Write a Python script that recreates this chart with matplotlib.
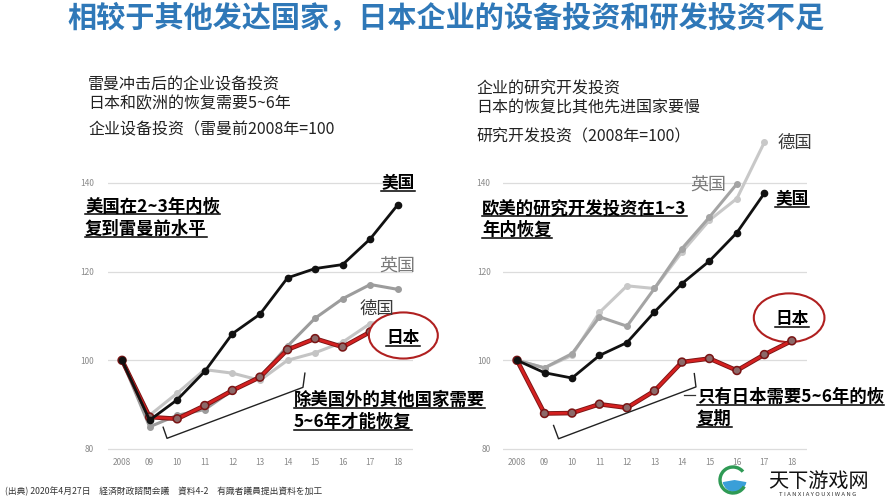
import numpy as np
import matplotlib
matplotlib.use("Agg")
import matplotlib.pyplot as plt
from matplotlib.patches import Ellipse, Wedge
from matplotlib.lines import Line2D
import matplotlib.patheffects as pe

plt.rcParams['font.family'] = ['Noto Sans CJK SC', 'DejaVu Sans']

# ---------------- data ----------------
years = ['2008', '09', '10', '11', '12', '13', '14', '15', '16', '17', '18']
yticks = [80, 100, 120, 140]

capex_us = [100, 86.5, 91.1, 97.5, 106.0, 110.4, 118.6, 120.7, 121.6, 127.4, 135.1]
capex_uk = [100, 85.0, 87.6, 88.9, 93.2, 96.2, 103.2, 109.5, 113.9, 117.1, 116.0]
capex_de = [100, 87.6, 92.6, 97.9, 97.1, 95.5, 100.0, 101.7, 104.1, 108.3, 109.5]
capex_jp = [100, 87.2, 86.8, 89.8, 93.2, 96.2, 102.4, 104.9, 103.0, 106.4, 109.5]

rd_us = [100, 97.2, 96.0, 101.1, 104.0, 110.9, 117.3, 122.4, 128.8, 137.7, np.nan]
rd_uk = [100, 98.3, 101.5, 109.8, 107.7, 116.2, 125.2, 132.3, 139.8, np.nan, np.nan]
rd_de = [100, 98.3, 101.1, 110.8, 116.8, 116.2, 124.4, 131.6, 136.5, 149.2, np.nan]
rd_jp = [100, 88.0, 88.1, 90.1, 89.3, 93.1, 99.6, 100.4, 97.7, 101.3, 104.4]

W, H = 888, 500
fig = plt.figure(figsize=(W / 100, H / 100), dpi=100)
fig.patch.set_facecolor('white')

RED = '#d42020'


def px(x, y):
    return x / W, 1 - y / H


def setup(ax, pad_y):
    ax.set_xlim(-0.51, 10.55)
    ax.set_ylim(79, 152)
    ax.set_xticks(range(len(years)))
    ax.set_xticklabels(years)
    ax.set_yticks(yticks)
    ax.set_yticklabels([str(v) for v in yticks])
    for s in ax.spines.values():
        s.set_visible(False)
    ax.tick_params(axis='both', length=0, labelsize=6, labelcolor='#8a8a8a')
    ax.tick_params(axis='x', pad=3)
    ax.tick_params(axis='y', pad=pad_y)
    ax.grid(axis='y', color='#dcdcdc', lw=0.9)
    ax.set_axisbelow(True)
    ax.patch.set_alpha(0)


def draw_lines(ax, us, uk, de, jp, uk_c, de_c):
    x = np.arange(len(years))
    ax.plot(x, de, color=de_c, lw=2.2, marker='o', ms=4, mfc=de_c, mec=de_c, zorder=3)
    ax.plot(x, uk, color=uk_c, lw=2.2, marker='o', ms=4, mfc=uk_c, mec=uk_c, zorder=3)
    ax.plot(x, jp, color=RED, lw=2.0, marker='o', ms=3.5, mfc='#8c6a6a', mec='#8c6a6a',
            zorder=4, path_effects=[pe.Stroke(linewidth=3.3, foreground='#7a1515'), pe.Normal()])
    ax.plot(x, us, color='#111111', lw=2.0, marker='o', ms=4.5, mfc='#111111', mec='#111111', zorder=5)


# left axes
axL = fig.add_axes([108 / W, 1 - 453.4 / H, 305 / W, 323.6 / H])
setup(axL, 10)
draw_lines(axL, capex_us, capex_uk, capex_de, capex_jp, '#9c9c9c', '#c4c4c4')
axL.add_patch(Ellipse((10.2, 105.6), 2.5, 10.4, facecolor='white', edgecolor='#b02020',
                      lw=1.5, zorder=6, clip_on=False))
axL.plot([1.49, 1.63, 6.56, 6.63], [84.9, 82.4, 93.9, 97.1], color='#222222', lw=1.0,
         zorder=6, clip_on=False)

# right axes
axR = fig.add_axes([503 / W, 1 - 453.4 / H, 304 / W, 323.6 / H])
setup(axR, 9)
draw_lines(axR, rd_us, rd_uk, rd_de, rd_jp, '#a4a4a4', '#c8c8c8')
axR.add_patch(Ellipse((9.9, 109.6), 2.57, 11.0, facecolor='white', edgecolor='#b02020',
                      lw=1.5, zorder=2.9, clip_on=False))
axR.plot([1.33, 1.51, 6.51, 6.45], [85.3, 82.3, 94.0, 97.0], color='#222222', lw=1.0,
         zorder=6, clip_on=False)

# ---------------- texts ----------------
fig.text(*px(446, 18), '相较于其他发达国家，日本企业的设备投资和研发投资不足',
         ha='center', va='center', fontsize=21, fontweight='bold', color='#2f78b8')

for (x, y, s) in [(88, 85, '雷曼冲击后的企业设备投资'),
                  (88, 104, '日本和欧洲的恢复需要5~6年'),
                  (88, 130, '企业设备投资（雷曼前2008年=100'),
                  (476, 89, '企业的研究开发投资'),
                  (476, 108, '日本的恢复比其他先进国家要慢'),
                  (476, 137, '研究开发投资（2008年=100）')]:
    fig.text(*px(x, y), s, ha='left', va='center', fontsize=11.5, color='#222222')

underlined = []


def ul(x, y, s, ha='left', size=12.5, color='black'):
    t = fig.text(*px(x, y), s, ha=ha, va='center', fontsize=size, fontweight='bold',
                 color=color, zorder=10)
    underlined.append(t)
    return t


ul(85, 207, '美国在2~3年内恢')
ul(85, 229, '复到雷曼前水平')
ul(294, 400, '除美国外的其他国家需要')
ul(294, 422, '5~6年才能恢复')
ul(398, 183, '美国', ha='center', size=12)
ul(403, 338, '日本', ha='center', size=12)

ul(482, 209, '欧美的研究开发投资在1~3')
ul(482, 230, '年内恢复')
ul(697, 397, '只有日本需要5~6年的恢')
ul(697, 419, '复期')
ul(792, 199, '美国', ha='center', size=12)
ul(792, 319, '日本', ha='center', size=12)

fig.text(*px(397, 267), '英国', ha='center', va='center', fontsize=13, color='#7a7a7a')
fig.text(*px(377, 309), '德国', ha='center', va='center', fontsize=12.5, color='#3a3a3a')
fig.text(*px(795, 143), '德国', ha='center', va='center', fontsize=12.5, color='#3a3a3a')
fig.text(*px(708, 186), '英国', ha='center', va='center', fontsize=13, color='#7a7a7a')

fig.add_artist(Line2D([684 / W, 695 / W], [1 - 395 / H, 1 - 395 / H], color='#333333', lw=0.9))

fig.text(*px(5, 491), '(出典) 2020年4月27日　経済財政諮問会議　資料4-2　有識者議員提出資料を加工',
         ha='left', va='center', fontsize=6.3, color='#333333',
         family=['Noto Sans CJK JP', 'DejaVu Sans'])

# watermark logo
axLogo = fig.add_axes([716 / W, 1 - 497 / H, 34 / W, 34 / H])
axLogo.set_xlim(-1.1, 1.1)
axLogo.set_ylim(-1.1, 1.1)
axLogo.set_aspect('equal')
axLogo.axis('off')
axLogo.add_patch(Wedge((0.1, 0), 0.78, 190, 350, facecolor='#3a9fd8', edgecolor='none'))
axLogo.add_patch(Wedge((0, 0), 0.95, 40, 330, width=0.22, facecolor='#2f9a55', edgecolor='none'))
fig.text(*px(818, 481), '天下游戏网', ha='center', va='center', fontsize=14.5,
         color='#111111', zorder=10)
fig.text(*px(818, 495), 'T I A N X I A Y O U X I W A N G', ha='center', va='center',
         fontsize=4.3, color='#333333', zorder=10)

# underline the bold annotations
fig.canvas.draw()
r = fig.canvas.get_renderer()
for t in underlined:
    bb = t.get_window_extent(r)
    yb = bb.y0 + 1.5
    fig.add_artist(Line2D([bb.x0 / W, bb.x1 / W], [yb / H, yb / H], color='black', lw=1.1,
                          zorder=10))

fig.savefig('out.png', dpi=100)
